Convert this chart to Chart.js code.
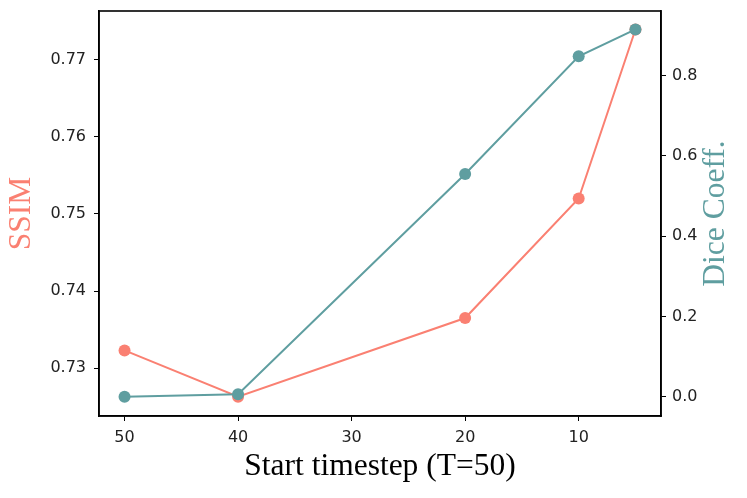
<!DOCTYPE html>
<html>
<head>
  <meta charset="utf-8">
  <title>SSIM and Dice vs start timestep</title>
  <script src="https://cdn.jsdelivr.net/npm/chart.js@4.4.0/dist/chart.umd.min.js"></script>
  <style>
    body { margin: 0; background: #fff; }
    #wrap { width: 747px; height: 498px; }
  </style>
</head>
<body>
  <div id="wrap"><canvas id="chart" width="747" height="498"></canvas></div>

<script>
// values
const timesteps = [50, 40, 20, 10, 5];
const ssimValues = [0.7323, 0.7263, 0.7365, 0.7520, 0.7739];
const diceValues = [0.000, 0.006, 0.555, 0.848, 0.915];

const xTicks = [50, 40, 30, 20, 10];
const ssimTicks = [0.73, 0.74, 0.75, 0.76, 0.77];
const diceTicks = [0.0, 0.2, 0.4, 0.6, 0.8];

const SALMON = '#fa8072';
const TEAL = '#5f9ea0';
const tickFont = { family: 'DejaVu Sans', size: 16 };

function fixTicks(values) {
  return function(scale) {
    scale.ticks = values.map(v => ({ value: v }));
  };
}

// fixed axis box sizes, no extra label padding, so the plot box sits where the reference has it
function fitSize(prop, size) {
  return function(scale) {
    scale[prop] = size;
    scale.paddingTop = 0;
    scale.paddingBottom = 0;
    scale.paddingLeft = 0;
    scale.paddingRight = 0;
  };
}

// matplotlib-style frame and axis titles (right label reads bottom to top)
const framePlugin = {
  id: 'frame',
  afterDraw(chart) {
    const { ctx, chartArea: a } = chart;
    ctx.save();
    ctx.strokeStyle = '#000';
    ctx.lineWidth = 1.6;
    ctx.strokeRect(a.left, a.top, a.right - a.left, a.bottom - a.top);

    ctx.font = '31.5px "Liberation Serif"';
    ctx.textAlign = 'center';
    ctx.textBaseline = 'middle';
    const midY = (a.top + a.bottom) / 2;

    ctx.fillStyle = '#000';
    ctx.fillText('Start timestep (T=50)', 380, 467);

    ctx.save();
    ctx.translate(22, midY);
    ctx.rotate(-Math.PI / 2);
    ctx.fillStyle = SALMON;
    ctx.fillText('SSIM', 0, 0);
    ctx.restore();

    ctx.save();
    ctx.translate(716, midY);
    ctx.rotate(-Math.PI / 2);
    ctx.fillStyle = TEAL;
    ctx.fillText('Dice Coeff.', 0, 0);
    ctx.restore();
    ctx.restore();
  }
};

const ctx = document.getElementById('chart').getContext('2d');
new Chart(ctx, {
  type: 'line',
  data: {
    datasets: [
      {
        label: 'SSIM',
        data: timesteps.map((t, i) => ({ x: t, y: ssimValues[i] })),
        yAxisID: 'ySsim',
        borderColor: SALMON,
        backgroundColor: SALMON,
        borderWidth: 2,
        pointRadius: 6,
        pointBorderWidth: 0,
        tension: 0,
        order: 1
      },
      {
        label: 'Dice Coeff.',
        data: timesteps.map((t, i) => ({ x: t, y: diceValues[i] })),
        yAxisID: 'yDice',
        borderColor: TEAL,
        backgroundColor: TEAL,
        borderWidth: 2,
        pointRadius: 6,
        pointBorderWidth: 0,
        tension: 0,
        order: 0
      }
    ]
  },
  options: {
    responsive: false,
    animation: false,
    layout: { padding: { top: 11, left: 0, right: 0, bottom: 0 } },
    plugins: {
      legend: { display: false },
      tooltip: { enabled: false }
    },
    scales: {
      x: {
        type: 'linear',
        reverse: true,
        min: 2.75,
        max: 52.25,
        afterBuildTicks: fixTicks(xTicks),
        afterFit: fitSize('height', 82),
        grid: { drawOnChartArea: false, tickLength: 5, tickColor: '#000' },
        border: { color: '#000', width: 1.6 },
        ticks: { color: '#222', font: tickFont, padding: 7, maxRotation: 0 }
      },
      ySsim: {
        type: 'linear',
        position: 'left',
        min: 0.7238,
        max: 0.7763,
        afterBuildTicks: fixTicks(ssimTicks),
        afterFit: fitSize('width', 99),
        grid: { drawOnChartArea: false, tickLength: 5, tickColor: '#000' },
        border: { color: '#000', width: 1.6 },
        ticks: { color: '#222', font: tickFont, padding: 8, callback: v => v.toFixed(2) }
      },
      yDice: {
        type: 'linear',
        position: 'right',
        min: -0.048,
        max: 0.961,
        afterBuildTicks: fixTicks(diceTicks),
        afterFit: fitSize('width', 86),
        grid: { drawOnChartArea: false, tickLength: 5, tickColor: '#000' },
        border: { color: '#000', width: 1.6 },
        ticks: { color: '#222', font: tickFont, padding: 6, callback: v => v.toFixed(1) }
      }
    }
  },
  plugins: [framePlugin]
});
</script>
</body>
</html>
